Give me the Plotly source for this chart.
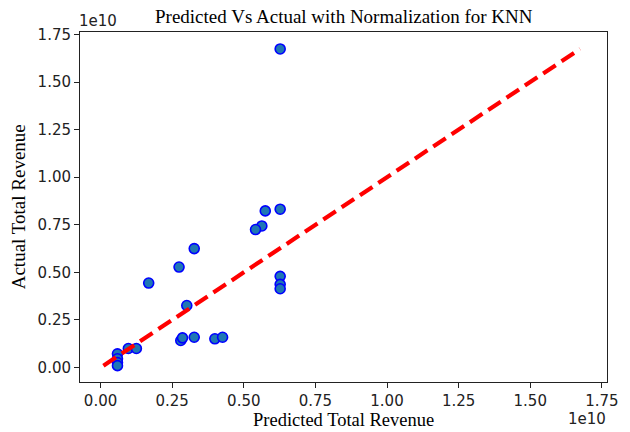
import plotly.graph_objects as go

# Data (in units of 1e10)
predicted = [0.627, 0.627, 0.575, 0.563, 0.541, 0.627, 0.627, 0.627,
             0.327, 0.274, 0.168, 0.301, 0.280, 0.286, 0.327, 0.399,
             0.426, 0.097, 0.125, 0.059, 0.059, 0.059, 0.059]
actual = [1.674, 0.832, 0.823, 0.744, 0.725, 0.479, 0.437, 0.414,
          0.625, 0.528, 0.444, 0.326, 0.142, 0.156, 0.159, 0.151,
          0.159, 0.100, 0.100, 0.072, 0.046, 0.026, 0.010]
scale = 1e10
line_vals = [min(actual), max(actual)]
tick_vals = [0.0, 0.25, 0.5, 0.75, 1.0, 1.25, 1.5, 1.75]
tick_text = ["0.00", "0.25", "0.50", "0.75", "1.00", "1.25", "1.50", "1.75"]

W, H = 630, 432
L, R, T, B = 80, 618, 32, 382

def px(x):
    return (x - L) / (R - L)

def py(y):
    return (B - y) / (B - T)

fig = go.Figure()
fig.add_trace(go.Scatter(
    x=[v * scale for v in predicted], y=[v * scale for v in actual],
    mode="markers",
    marker=dict(size=10, color="#1f77b4", line=dict(color="#0000ff", width=1.6)),
    showlegend=False, cliponaxis=False))
fig.add_trace(go.Scatter(
    x=[v * scale for v in line_vals], y=[v * scale for v in line_vals],
    mode="lines",
    line=dict(color="#ff0000", width=4.2, dash="15px,7px"),
    showlegend=False))

axis_common = dict(
    showgrid=False, zeroline=False, showline=True, mirror=True,
    linecolor="#222222", linewidth=1,
    ticks="outside", ticklen=5, tickwidth=1, tickcolor="#222222",
    tickfont=dict(family="DejaVu Sans", size=15, color="#222222"),
    tickvals=[v * scale for v in tick_vals], ticktext=tick_text,
)
fig.update_layout(
    width=W, height=H,
    margin=dict(l=L, r=W - R, t=T, b=H - B),
    paper_bgcolor="white", plot_bgcolor="white",
    xaxis=dict(range=[-0.0718 * scale, 1.768 * scale], **axis_common),
    yaxis=dict(range=[-0.076 * scale, 1.763 * scale], **axis_common),
)

ann = [
    dict(text="Predicted Vs Actual with Normalization for KNN", x=px(349), y=py(17),
         font=dict(family="Liberation Serif", size=19, color="#000")),
    dict(text="Predicted Total Revenue", x=px(349), y=py(420),
         font=dict(family="Liberation Serif", size=18.5, color="#000")),
    dict(text="Actual Total Revenue", x=px(17), y=py(207), textangle=-90,
         font=dict(family="Liberation Serif", size=19, color="#000")),
    dict(text="1e10", x=px(98), y=py(21),
         font=dict(family="DejaVu Sans", size=15, color="#222222")),
    dict(text="1e10", x=px(597.5), y=py(419),
         font=dict(family="DejaVu Sans", size=15, color="#222222")),
]
for a in ann:
    fig.add_annotation(xref="paper", yref="paper", showarrow=False,
                       xanchor="center", yanchor="middle", **a)

fig.write_html("out.html")
